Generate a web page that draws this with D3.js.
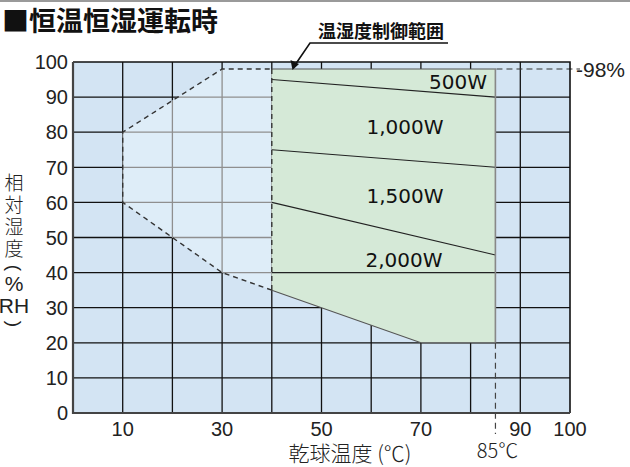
<!DOCTYPE html>
<html><head><meta charset="utf-8">
<script src="https://cdn.jsdelivr.net/npm/d3@7"></script>
<style>
html,body{margin:0;padding:0;background:#fff;}
svg{display:block;}
</style></head>
<body>
<script>
// ---- data ----
const title = "■恒温恒湿運転時";
const calloutLabel = "温湿度制御範囲";
const yAxisChars = ["相","対","湿","度","(","%","RH",")"];
const xAxisTitle = "乾球温度 (℃)";
const yTicks = [0,10,20,30,40,50,60,70,80,90,100];
const xTickLabels = [10,30,50,70,90,100];
const gridX = [10,20,30,40,50,60,70,80,90];
const gridY = [10,20,30,40,50,60,70,80,90];
// humidity control range (temperature °C, humidity %RH)
const controlRange = [[10,60],[10,80],[30,98],[40,98],[40,35],[30,40]];
const heaterRange = [[40,98],[85,98],[85,20],[70,20],[40,35]];
const powerLabels = ["500W","1,000W","1,500W","2,000W"];
const powerLineStart = [95,75,60,40];   // %RH at 40°C
const powerLineEnd = [90,70,45,40];     // %RH at 85°C
const maxTemp = 85, maxHumidity = 98;
const tempMarkLabel = "85℃";
const humMarkLabel = "98%";

// ---- layout ----
const W = 630, H = 467;
const x = d3.scaleLinear().domain([0,100]).range([73,570]);
const y = d3.scaleLinear().domain([0,100]).range([413,62]);
const lineStartT = 40, lineEndT = 85;
const labelPos = [
  {t:83.3, h:94.4, anchor:"end"},
  {t:66.8, h:81.4, anchor:"middle"},
  {t:66.8, h:61.8, anchor:"middle"},
  {t:66.6, h:43.6, anchor:"middle"}
];
const yTitleX = 14;
const yTitleY = [181,203,225,247,268,283,305,324];

const svg = d3.select("body").append("svg").attr("width",W).attr("height",H);

// top rule
svg.append("line").attr("x1",0).attr("x2",W).attr("y1",1).attr("y2",1)
  .attr("stroke","#9a9a9a").attr("stroke-width",2);

// title
svg.append("text").attr("x",2).attr("y",31)
  .attr("font-family","'Noto Sans CJK JP'").attr("font-weight","bold")
  .attr("font-size",27).attr("fill","#111").text(title);

// plot background
svg.append("rect").attr("x",x(0)).attr("y",y(100))
  .attr("width",x(100)-x(0)).attr("height",y(0)-y(100)).attr("fill","#d3e4f3");

const grid = svg.append("g");
function drawGrid(g, color){
  g.selectAll("line.v").data(gridX).join("line").attr("class","v")
    .attr("x1",d=>x(d)).attr("x2",d=>x(d)).attr("y1",y(0)).attr("y2",y(100))
    .attr("stroke",color).attr("stroke-width",1.3);
  g.selectAll("line.h").data(gridY).join("line").attr("class","h")
    .attr("x1",x(0)).attr("x2",x(100)).attr("y1",d=>y(d)).attr("y2",d=>y(d))
    .attr("stroke",color).attr("stroke-width",1.3);
}
drawGrid(grid,"#111");

const poly = d3.line().x(d=>x(d[0])).y(d=>y(d[1]));

// light control range
svg.append("clipPath").attr("id","lightClip").append("path")
  .attr("d",poly(controlRange)+"Z");
svg.append("path").attr("d",poly(controlRange)+"Z").attr("fill","#deedf8");
const g2 = svg.append("g").attr("clip-path","url(#lightClip)");
drawGrid(g2,"#8f8f8f");

// green heater range
svg.append("path").attr("d",poly(heaterRange)+"Z").attr("fill","#d5e9d7");

// power lines
powerLabels.forEach((lab,i)=>{
  svg.append("line").attr("x1",x(lineStartT)).attr("y1",y(powerLineStart[i]))
    .attr("x2",x(lineEndT)).attr("y2",y(powerLineEnd[i]))
    .attr("stroke","#222").attr("stroke-width",1.1);
  const p = labelPos[i];
  svg.append("text").attr("x",x(p.t)).attr("y",y(p.h))
    .attr("text-anchor",p.anchor).attr("dominant-baseline","central")
    .attr("font-family","'DejaVu Sans'").attr("font-size",20).attr("fill","#111")
    .text(lab);
});

// heater region solid edges
svg.append("path").attr("d",poly([[40,maxHumidity],[maxTemp,maxHumidity],[maxTemp,20],[70,20],[40,35]]))
  .attr("fill","none").attr("stroke","#555").attr("stroke-width",1.1);
svg.append("line").attr("x1",x(maxTemp)).attr("x2",x(maxTemp)).attr("y1",y(maxHumidity)).attr("y2",y(20))
  .attr("stroke","#888").attr("stroke-width",1.5);

// dashed outline of control range
const dash = "5,4";
svg.append("path").attr("d",poly([[40,35],[30,40],[10,60],[10,80],[30,maxHumidity],[40,maxHumidity]]))
  .attr("fill","none").attr("stroke","#333").attr("stroke-width",1.4).attr("stroke-dasharray",dash);
svg.append("line").attr("x1",x(40)).attr("x2",x(40)).attr("y1",y(maxHumidity)).attr("y2",y(35))
  .attr("stroke","#333").attr("stroke-width",1.4).attr("stroke-dasharray",dash);
// 98% extension
svg.append("line").attr("x1",x(maxTemp)+1).attr("x2",580).attr("y1",y(maxHumidity)).attr("y2",y(maxHumidity))
  .attr("stroke","#333").attr("stroke-width",1.2).attr("stroke-dasharray","6,4");
// 85°C extension
svg.append("line").attr("x1",x(maxTemp)).attr("x2",x(maxTemp)).attr("y1",y(20)).attr("y2",434)
  .attr("stroke","#444").attr("stroke-width",1.2).attr("stroke-dasharray","6,4");

// frame
svg.append("path").attr("d",`M${x(0)},${y(100)}H${x(100)}V${y(0)}`)
  .attr("fill","none").attr("stroke","#111").attr("stroke-width",1.6);
svg.append("path").attr("d",`M${x(0)},${y(100)}V${y(0)}H${x(100)}`)
  .attr("fill","none").attr("stroke","#444").attr("stroke-width",2.2);

// y ticks
const tickFont = "'Liberation Sans', Arial, sans-serif";
svg.append("g").selectAll("text").data(yTicks).join("text")
  .attr("x",68).attr("y",d=>y(d)).attr("dy","0.36em").attr("text-anchor","end")
  .attr("font-family",tickFont).attr("font-size",20).attr("fill","#222").text(d=>d);
// x ticks
svg.append("g").selectAll("text").data(xTickLabels).join("text")
  .attr("x",d=>x(d)).attr("y",436).attr("text-anchor","middle")
  .attr("font-family",tickFont).attr("font-size",20).attr("fill","#222").text(d=>d);

// mark labels
svg.append("text").attr("x",576).attr("y",y(maxHumidity)).attr("dy","0.36em")
  .attr("font-family",tickFont).attr("font-size",21).attr("fill","#222").text("-"+humMarkLabel);
svg.append("text").attr("x",x(maxTemp)+2).attr("y",458).attr("text-anchor","middle")
  .attr("font-family","'Noto Sans CJK JP'").attr("font-weight","300").attr("font-size",20).attr("fill","#222").text(tempMarkLabel);

// axis titles
svg.append("text").attr("x",350).attr("y",461).attr("text-anchor","middle")
  .attr("font-family","'Noto Sans CJK JP'").attr("font-weight","300").attr("font-size",21).attr("fill","#222").text(xAxisTitle);
const ytG = svg.append("g").attr("fill","#222");
yAxisChars.forEach((c,i)=>{
  const latin = (c==="RH"||c==="%");
  const paren = (c==="("||c===")");
  const t = ytG.append("text")
    .attr("text-anchor","middle").attr("dominant-baseline","central")
    .attr("font-family", (latin||paren) ? "'Liberation Sans Narrow','Liberation Sans',sans-serif" : "'Noto Sans CJK JP'")
    .attr("font-weight","300")
    .attr("font-size", latin ? 21 : 19).text(c);
  if (paren) t.attr("transform",`translate(${yTitleX},${yTitleY[i]}) rotate(90)`);
  else t.attr("x",yTitleX).attr("y",yTitleY[i]);
});

// callout
svg.append("text").attr("x",318).attr("y",38)
  .attr("font-family","'Noto Sans CJK JP'").attr("font-weight","bold")
  .attr("font-size",18).attr("fill","#111").text(calloutLabel);
svg.append("path").attr("d","M448,43H310L295,65")
  .attr("fill","none").attr("stroke","#111").attr("stroke-width",1.6);
svg.append("path").attr("d","M292.5,70L290.5,60L299,64Z").attr("fill","#111");
</script>
</body></html>
